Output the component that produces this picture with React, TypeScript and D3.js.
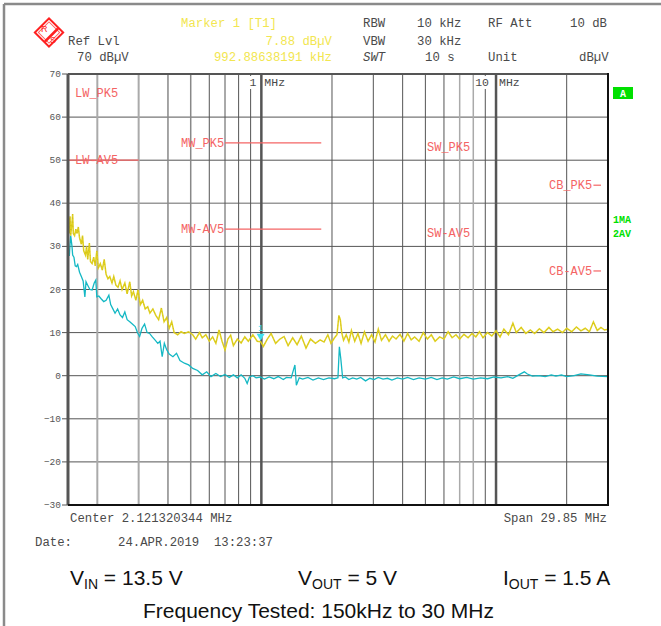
import * as d3 from "d3";

// ---- data (MHz, dBµV) ----
const peakTrace: [number, number][] = [
  [0.150, 34.0], [0.151, 36.5], [0.152, 33.0], [0.153, 37.0], [0.154, 32.5], [0.156, 35.5],
  [0.157, 37.5], [0.158, 33.0], [0.160, 32.5], [0.162, 34.0], [0.164, 33.0], [0.166, 34.5],
  [0.168, 32.0], [0.171, 30.5], [0.173, 32.5], [0.175, 29.0], [0.178, 28.0], [0.180, 30.0],
  [0.182, 27.0], [0.185, 30.8], [0.187, 26.5], [0.190, 26.0], [0.193, 27.5], [0.196, 25.5],
  [0.199, 29.0], [0.202, 25.0], [0.206, 26.0], [0.210, 24.5], [0.214, 27.0], [0.218, 23.5],
  [0.222, 22.5], [0.226, 23.0], [0.231, 21.5], [0.235, 23.0], [0.240, 21.0], [0.245, 20.5],
  [0.250, 22.0], [0.255, 20.0], [0.262, 21.5], [0.268, 19.0], [0.275, 21.8], [0.280, 18.5],
  [0.285, 19.5], [0.292, 17.5], [0.298, 19.9], [0.305, 16.5], [0.312, 17.5], [0.320, 15.5],
  [0.328, 16.0], [0.335, 14.5], [0.345, 15.5], [0.355, 14.0], [0.365, 13.0], [0.375, 15.7],
  [0.385, 12.5], [0.395, 13.5], [0.405, 11.0], [0.415, 12.5], [0.425, 10.0], [0.440, 9.5],
  [0.455, 10.2], [0.470, 9.8], [0.490, 10.2], [0.510, 9.5], [0.525, 8.5], [0.545, 10.0],
  [0.560, 8.8], [0.580, 9.5], [0.600, 8.0], [0.620, 9.0], [0.640, 7.5], [0.660, 10.6],
  [0.680, 8.0], [0.700, 6.0], [0.720, 8.5], [0.740, 9.4], [0.760, 7.0], [0.790, 8.5],
  [0.820, 7.6], [0.850, 9.0], [0.880, 8.0], [0.920, 9.5], [0.960, 8.0], [0.993, 7.9],
  [1.02, 6.8], [1.06, 8.5], [1.10, 9.8], [1.15, 7.5], [1.20, 8.5], [1.25, 9.1],
  [1.30, 7.0], [1.36, 8.8], [1.42, 7.2], [1.48, 9.2], [1.55, 6.4], [1.62, 8.5],
  [1.70, 7.5], [1.78, 8.3], [1.85, 7.8], [1.92, 9.5], [1.98, 7.5], [2.05, 8.8],
  [2.10, 9.5], [2.14, 14.0], [2.17, 13.0], [2.20, 10.0], [2.24, 8.2], [2.30, 9.5],
  [2.36, 7.8], [2.42, 10.5], [2.50, 8.0], [2.58, 9.8], [2.66, 7.5], [2.75, 10.2],
  [2.85, 8.0], [2.95, 9.5], [3.05, 7.8], [3.15, 10.8], [3.25, 8.2], [3.38, 9.5],
  [3.50, 8.0], [3.62, 9.2], [3.75, 8.5], [3.90, 9.6], [4.05, 8.0], [4.20, 9.8],
  [4.35, 8.3], [4.50, 9.0], [4.70, 8.0], [4.90, 10.0], [5.10, 8.5], [5.30, 9.5],
  [5.50, 8.0], [5.75, 9.0], [6.00, 8.5], [6.25, 10.2], [6.50, 8.8], [6.75, 9.5],
  [7.00, 8.5], [7.30, 9.6], [7.60, 8.8], [7.90, 9.8], [8.20, 9.0], [8.50, 10.2],
  [8.80, 8.8], [9.20, 10.0], [9.60, 9.2], [10.0, 10.4], [10.4, 9.0], [10.8, 10.8],
  [11.3, 9.5], [11.8, 12.2], [12.2, 10.0], [12.8, 11.2], [13.4, 9.8], [14.0, 10.6],
  [14.6, 9.8], [15.3, 10.9], [16.0, 10.0], [16.8, 11.2], [17.5, 10.2], [18.3, 10.8],
  [19.2, 10.0], [20.0, 11.0], [21.0, 10.2], [22.0, 11.3], [23.0, 10.4], [24.0, 11.0],
  [25.0, 10.2], [26.0, 12.5], [27.0, 10.5], [28.0, 11.2], [29.0, 10.6], [30.0, 10.8],
];

const avgTrace: [number, number][] = [
  [0.150, 27.5], [0.151, 29.0], [0.152, 27.8], [0.153, 30.5], [0.154, 32.5], [0.156, 30.0],
  [0.157, 28.0], [0.159, 27.5], [0.161, 25.5], [0.163, 25.3], [0.165, 25.8], [0.168, 24.0],
  [0.171, 23.0], [0.174, 22.0], [0.177, 18.3], [0.179, 21.8], [0.182, 21.0], [0.186, 20.0],
  [0.190, 19.9], [0.194, 21.5], [0.197, 22.2], [0.199, 18.3], [0.203, 18.5], [0.208, 17.8],
  [0.213, 17.2], [0.218, 17.5], [0.224, 18.7], [0.228, 16.5], [0.233, 15.5], [0.238, 14.5],
  [0.244, 15.5], [0.250, 14.1], [0.256, 13.5], [0.262, 14.8], [0.268, 13.0], [0.275, 12.5],
  [0.282, 12.0], [0.290, 11.4], [0.297, 9.9], [0.303, 9.1], [0.310, 11.0], [0.318, 12.0],
  [0.326, 10.0], [0.334, 9.8], [0.343, 9.0], [0.352, 8.3], [0.362, 7.5], [0.370, 8.0],
  [0.378, 4.4], [0.386, 7.5], [0.395, 6.0], [0.405, 5.0], [0.420, 4.4], [0.435, 5.2],
  [0.450, 3.5], [0.470, 2.9], [0.490, 2.5], [0.510, 1.7], [0.535, 1.2], [0.560, 0.2],
  [0.585, 0.9], [0.610, -0.2], [0.640, 0.5], [0.670, -0.2], [0.700, 0.3], [0.730, -0.4],
  [0.760, 0.2], [0.790, -0.5], [0.820, 0.2], [0.850, -0.6], [0.870, -1.8], [0.890, -0.3],
  [0.920, 0.0], [0.950, -0.5], [0.990, -0.3], [1.03, -0.8], [1.08, -0.3], [1.13, -0.7],
  [1.18, -0.2], [1.24, -0.9], [1.28, -0.4], [1.34, -0.5], [1.39, 2.5], [1.41, -2.2],
  [1.45, -0.5], [1.50, -0.8], [1.58, -0.4], [1.66, -1.0], [1.75, -0.5], [1.84, -0.9],
  [1.94, -0.5], [2.05, -0.7], [2.12, -0.5], [2.15, 6.7], [2.18, 4.0], [2.22, -0.5],
  [2.28, -0.3], [2.36, -0.9], [2.45, -0.5], [2.55, -0.8], [2.65, -0.4], [2.78, -1.2],
  [2.90, -0.6], [3.02, -0.9], [3.15, -0.4], [3.30, -0.8], [3.45, -0.6], [3.60, -1.0],
  [3.80, -0.5], [4.00, -0.8], [4.20, -0.4], [4.45, -0.9], [4.70, -0.5], [5.00, -0.8],
  [5.30, -0.4], [5.60, -0.9], [5.90, -0.5], [6.20, -0.8], [6.60, -0.3], [7.00, -0.7],
  [7.50, -0.4], [8.00, -0.8], [8.60, -0.5], [9.20, -0.7], [9.80, -0.3], [10.5, -0.5],
  [11.2, -0.2], [11.8, -0.6], [12.5, 0.2], [13.2, 0.9], [13.6, 0.4], [14.3, -0.1],
  [15.2, 0.0], [16.2, -0.2], [17.2, 0.2], [18.0, -0.1], [19.0, 0.2], [20.0, -0.2],
  [21.5, 0.0], [23.0, 0.4], [25.0, 0.2], [27.0, -0.1], [30.0, -0.2],
];

const yTicks = [70, 60, 50, 40, 30, 20, 10, 0, -10, -20, -30];
const gridFreqs = [0.2, 0.3, 0.4, 0.5, 0.6, 0.7, 0.8, 0.9, 1, 2, 3, 4, 5, 6, 7, 8, 9, 10, 20];

// limit lines: name, start MHz, stop MHz, level dB
const limitNames = ["LW_PK5", "LW-AV5", "MW_PK5", "MW-AV5", "SW_PK5", "SW-AV5", "CB_PK5", "CB-AV5"];
const limitStart = [0.15, 0.15, 0.70, 0.70, 5.9, 5.9, 26, 26];
const limitStop = [0.30, 0.30, 1.8, 1.8, 6.2, 6.2, 28, 28];
const limitLevel = [65.5, 50, 54, 34, 53, 33, 44.2, 24.3];
const limitDrawn = [false, true, true, true, false, false, true, true];

const marker = { freq: 0.99288638191, level: 7.88 };

const W = 661;
const H = 626;
const left = 68, right = 608, top = 74, bottom = 505;

const x = d3.scaleLog().domain([0.15, 30]).range([left, right]);
const y = d3.scaleLinear().domain([-30, 70]).range([bottom, top]);

const line = d3.line<[number, number]>().x(d => x(d[0])).y(d => y(d[1]));

const mono = "'Liberation Mono', 'DejaVu Sans Mono', monospace";
const sans = "'Liberation Sans', Arial, sans-serif";
const gray = "#4a4a4a";
const yellowTxt = "#f2e650";
const red = "#f46464";
const green = "#00e000";

function gridStyle(f: number) {
  if (f === 1 || f === 10) return { stroke: "#555", w: 2.5 };
  if (f === 0.2 || f === 0.3) return { stroke: "#aaa", w: 2 };
  if (f === 0.4 || f === 0.5) return { stroke: "#888", w: 1.5 };
  if (f === 7 || f === 8) return { stroke: "#aaa", w: 1.5 };
  return { stroke: "#555", w: 1 };
}

// label x position of each limit label
const labelX = [75, 75, 181, 181, 427, 427, 549, 549];

export default function App() {
  const m1 = x(1);
  const m10 = x(10);
  const mx = x(marker.freq);
  const my = y(marker.level);
  return (
    <svg width={W} height={H} style={{ position: "absolute", left: 0, top: 0, background: "#fff" }}>
      <rect width={W} height={H} fill="#fff" />
      {/* outer frame */}
      <line x1={4} y1={4} x2={W} y2={4} stroke="#8a8a8a" strokeWidth={2.5} />
      <line x1={4} y1={4} x2={4} y2={H} stroke="#8a8a8a" strokeWidth={2.5} />

      {/* R&S logo */}
      <g transform="translate(49,32.5)">
        <rect x={-10} y={-10} width={20} height={20} transform="rotate(45)" fill="#fff" stroke="#ff2020" strokeWidth={2} />
        <rect x={-7.5} y={-7.5} width={15} height={15} transform="rotate(45)" fill="none" stroke="#ff6060" strokeWidth={1} />
        <line x1={-9} y1={-4} x2={4} y2={9} stroke="#ff2020" strokeWidth={2.5} transform="rotate(-90)" />
        <text x={-8} y={-1} fontFamily={sans} fontSize={9} fill="#ff2020">R</text>
        <text x={1} y={10} fontFamily={sans} fontSize={9} fill="#ff2020">S</text>
      </g>

      {/* header */}
      <g fontFamily={mono} fontSize={12.3} fill={gray}>
        <text x={68} y={45}>Ref Lvl</text>
        <text x={77} y={61}>70 dBµV</text>
        <text x={363} y={27}>RBW</text>
        <text x={417} y={27}>10 kHz</text>
        <text x={488} y={27}>RF Att</text>
        <text x={570} y={27}>10 dB</text>
        <text x={363} y={45}>VBW</text>
        <text x={417} y={45}>30 kHz</text>
        <text x={363} y={61} fontStyle="italic">SWT</text>
        <text x={425} y={61}>10 s</text>
        <text x={488} y={61}>Unit</text>
        <text x={579} y={61}>dBµV</text>
      </g>
      <g fontFamily={mono} fontSize={12.3} fill={yellowTxt}>
        <text x={181} y={27}>Marker 1 [T1]</text>
        <text x={332} y={45} textAnchor="end">7.88 dBµV</text>
        <text x={332} y={61} textAnchor="end">992.88638191 kHz</text>
      </g>

      {/* horizontal grid + y ticks */}
      {yTicks.map(t => (
        <g key={t}>
          <line x1={left - 6} x2={right} y1={y(t)} y2={y(t)} stroke={t === 40 ? "#999" : "#555"} strokeWidth={t === 40 ? 1.5 : 1} />
          <text x={left - 7} y={y(t) + 3} textAnchor="end" fontFamily={mono} fontSize={9.5} fill="#555">
            {t < 0 ? `\u2212${-t}` : t}
          </text>
        </g>
      ))}

      {/* vertical grid */}
      {gridFreqs.map(f => {
        const s = gridStyle(f);
        return <line key={f} x1={x(f)} x2={x(f)} y1={top} y2={bottom} stroke={s.stroke} strokeWidth={s.w} />;
      })}

      {/* decade labels */}
      <g fontFamily={mono} fontSize={11.5} fill={gray}>
        <rect x={m1 - 17} y={76} width={11} height={13} fill="#fff" />
        <rect x={m1 + 3} y={76} width={20} height={13} fill="#fff" />
        <text x={m1 - 5} y={86} textAnchor="end">1</text>
        <text x={m1 + 3} y={86}>MHz</text>
        <rect x={m10 - 22} y={76} width={16} height={13} fill="#fff" />
        <rect x={m10 + 3} y={76} width={22} height={13} fill="#fff" />
        <text x={m10 - 7} y={86} textAnchor="end">10</text>
        <text x={m10 + 3} y={86}>MHz</text>
      </g>

      {/* limit lines */}
      {limitNames.map((n, i) => (
        <g key={n}>
          {limitDrawn[i] && (
            <line x1={x(limitStart[i])} x2={x(limitStop[i])} y1={y(limitLevel[i])} y2={y(limitLevel[i])} stroke={red} strokeWidth={1.2} />
          )}
          <text x={labelX[i]} y={y(limitLevel[i]) + 4} fontFamily={mono} fontSize={12} fill={red}>{n}</text>
        </g>
      ))}

      {/* traces */}
      <path d={line(avgTrace) || ""} fill="none" stroke="#14b8c4" strokeWidth={1.3} />
      <path d={line(peakTrace) || ""} fill="none" stroke="#e0d020" strokeWidth={1.5} />
      <path d={line(peakTrace) || ""} fill="none" stroke="#a89400" strokeWidth={0.8} strokeDasharray="1 3" opacity={0.35} />

      {/* marker */}
      <path d={`M${mx - 4},${my - 8} L${mx + 4},${my - 8} L${mx},${my - 1} Z`} fill="#3ee0f0" />
      <text x={mx} y={my - 11} textAnchor="middle" fontFamily={mono} fontSize={9} fill="#3ee0f0">1</text>

      {/* plot border */}
      <line x1={left} x2={left} y1={top} y2={bottom} stroke="#555" strokeWidth={3} />
      <line x1={left} x2={right} y1={top} y2={top} stroke="#555" strokeWidth={2} />
      <line x1={right} x2={right} y1={top - 1} y2={bottom + 1} stroke="#111" strokeWidth={2} />
      <line x1={left} x2={right + 1} y1={bottom} y2={bottom} stroke="#111" strokeWidth={2} />

      {/* right side indicators */}
      <rect x={613} y={87} width={20} height={12} fill={green} />
      <text x={623} y={97} textAnchor="middle" fontFamily={mono} fontSize={10} fontWeight="bold" fill="#fff">A</text>
      <text x={613} y={223} fontFamily={mono} fontSize={10} fontWeight="bold" fill={green}>1MA</text>
      <text x={613} y={237} fontFamily={mono} fontSize={10} fontWeight="bold" fill={green}>2AV</text>

      {/* footer */}
      <g fontFamily={mono} fontSize={12.3} fill={gray}>
        <text x={70} y={522}>Center 2.121320344 MHz</text>
        <text x={607} y={522} textAnchor="end">Span 29.85 MHz</text>
        <text x={35} y={546}>Date:</text>
        <text x={118} y={546} xmlSpace="preserve">24.APR.2019  13:23:37</text>
      </g>

      <g fontFamily={sans} fontSize={21} fill="#111">
        <text x={70} y={585}>V<tspan fontSize={14} dy={4}>IN</tspan><tspan dy={-4}> = 13.5 V</tspan></text>
        <text x={298} y={585}>V<tspan fontSize={14} dy={4}>OUT</tspan><tspan dy={-4}> = 5 V</tspan></text>
        <text x={503} y={585}>I<tspan fontSize={14} dy={4}>OUT</tspan><tspan dy={-4}> = 1.5 A</tspan></text>
        <text x={318.5} y={618} textAnchor="middle">Frequency Tested: 150kHz to 30 MHz</text>
      </g>
    </svg>
  );
}
